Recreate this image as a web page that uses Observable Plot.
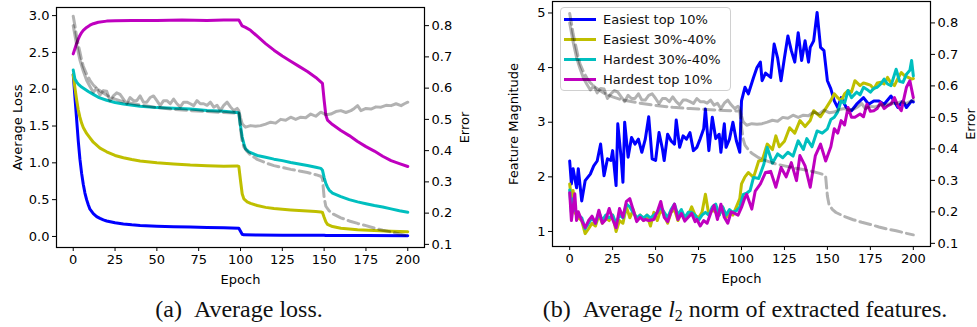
<!DOCTYPE html>
<html><head><meta charset="utf-8">
<script src="https://cdn.jsdelivr.net/npm/d3@7"></script>
<script src="https://cdn.jsdelivr.net/npm/@observablehq/plot@0.6"></script>
<style>
body{margin:0;background:#fff;}
#fig{position:relative;width:977px;height:327px;overflow:hidden;background:#fff;}
.layer{position:absolute;}
.layer svg{display:block;background:none !important;}
.cap{position:absolute;font-family:"Liberation Serif","Times New Roman",serif;font-size:24px;white-space:nowrap;color:#111;transform:translateX(-50%);}
.legend{position:absolute;box-sizing:border-box;border:1px solid #d0d0d0;border-radius:4px;background:rgba(255,255,255,0.8);padding-top:2px;}
.row{display:flex;align-items:center;height:19.8px;font-family:"DejaVu Sans",sans-serif;font-size:13px;color:#111;}
.sw{width:32px;height:3px;margin-left:3px;margin-right:7px;}
</style></head>
<body><div id="fig"></div>
<script>
// ---------- data ----------
const xTicks = [0, 25, 50, 75, 100, 125, 150, 175, 200];
const lossTicks = [0, 0.5, 1.0, 1.5, 2.0, 2.5, 3.0];
const errorTicks = [0.1, 0.2, 0.3, 0.4, 0.5, 0.6, 0.7, 0.8];
const featTicks = [1, 2, 3, 4, 5];
const seriesNames = ["Easiest top 10%", "Easiest 30%-40%", "Hardest 30%-40%", "Hardest top 10%"];
const seriesColors = ["#0000ff", "#bfbf00", "#00bfbf", "#bf00bf"];

const lossEasiestTop10 = [[0,2.2],[1,1.9],[2,1.6],[3,1.3],[4,1.05],[5,0.86],[6,0.71],[7,0.59],[8,0.5],[9,0.43],[10,0.37],[12,0.31],[14,0.27],[16,0.245],[18,0.225],[20,0.21],[25,0.185],[30,0.17],[35,0.158],[40,0.15],[50,0.14],[60,0.133],[70,0.127],[80,0.122],[90,0.118],[99,0.112],[100,0.07],[101,0.03],[102,0.022],[110,0.02],[125,0.018],[150,0.016],[151,0.013],[175,0.012],[200,0.011]];
const lossEasiest3040 = [[0,2.2],[1,2.02],[2,1.86],[3,1.72],[4,1.62],[5,1.54],[6,1.48],[7,1.44],[8,1.4],[10,1.34],[12,1.28],[14,1.24],[16,1.2],[20,1.15],[25,1.1],[30,1.07],[35,1.045],[40,1.025],[50,1.0],[60,0.985],[70,0.97],[80,0.962],[90,0.955],[98,0.958],[99,0.95],[100,0.76],[101,0.58],[102,0.51],[104,0.47],[106,0.45],[110,0.42],[115,0.395],[120,0.38],[125,0.37],[130,0.36],[135,0.352],[140,0.345],[145,0.338],[148,0.333],[149,0.325],[150,0.26],[151,0.2],[152,0.165],[155,0.135],[160,0.112],[170,0.092],[180,0.08],[190,0.07],[200,0.063]];
const lossHardest3040 = [[0,2.26],[1,2.14],[2,2.1],[3,2.07],[5,2.03],[7,2.0],[9,1.97],[12,1.93],[15,1.89],[20,1.85],[25,1.82],[30,1.8],[40,1.77],[50,1.75],[60,1.74],[70,1.73],[80,1.71],[90,1.7],[99,1.68],[100,1.5],[101,1.35],[102,1.26],[103,1.19],[105,1.15],[110,1.1],[115,1.075],[120,1.05],[125,1.03],[130,1.005],[135,0.985],[140,0.965],[145,0.94],[148,0.925],[149,0.9],[150,0.8],[151,0.72],[152,0.67],[153,0.63],[155,0.59],[160,0.54],[165,0.5],[170,0.47],[175,0.445],[180,0.42],[185,0.4],[190,0.375],[195,0.35],[200,0.33]];
const lossHardestTop10 = [[0,2.48],[1,2.55],[2,2.62],[3,2.68],[4,2.73],[5,2.77],[6,2.8],[8,2.84],[10,2.87],[12,2.89],[15,2.91],[20,2.925],[25,2.93],[35,2.935],[50,2.935],[65,2.94],[80,2.935],[90,2.94],[99,2.94],[100,2.9],[101,2.86],[103,2.84],[106,2.8],[110,2.72],[115,2.62],[120,2.53],[125,2.45],[130,2.38],[135,2.31],[140,2.24],[145,2.16],[148,2.1],[149,2.08],[150,1.85],[151,1.65],[152,1.58],[155,1.52],[160,1.44],[165,1.37],[170,1.29],[175,1.22],[180,1.16],[185,1.09],[190,1.03],[195,0.99],[200,0.95]];

const testError = [[0,0.8],[2,0.74],[4,0.69],[6,0.655],[8,0.625],[10,0.605],[12,0.587],[14,0.6],[16,0.578],[18,0.592],[20,0.59],[22,0.56],[24,0.575],[26,0.585],[28,0.58],[30,0.565],[32,0.55],[34,0.57],[36,0.56],[38,0.56],[40,0.575],[42,0.555],[44,0.555],[46,0.57],[48,0.575],[50,0.56],[52,0.544],[54,0.56],[56,0.56],[58,0.55],[60,0.565],[62,0.55],[64,0.54],[66,0.555],[68,0.555],[70,0.55],[72,0.544],[74,0.56],[76,0.55],[78,0.55],[80,0.545],[82,0.555],[84,0.539],[86,0.545],[88,0.528],[90,0.545],[92,0.555],[94,0.54],[96,0.528],[98,0.535],[99,0.528],[100,0.505],[101,0.486],[103,0.475],[106,0.48],[109,0.478],[112,0.48],[115,0.485],[118,0.491],[121,0.488],[124,0.5],[127,0.497],[130,0.507],[133,0.5],[136,0.507],[139,0.505],[142,0.517],[145,0.51],[148,0.523],[151,0.515],[154,0.517],[157,0.525],[160,0.528],[163,0.522],[166,0.528],[168,0.535],[170,0.544],[172,0.528],[175,0.535],[178,0.533],[181,0.54],[184,0.539],[187,0.545],[190,0.544],[193,0.55],[196,0.544],[198,0.55],[200,0.555]];
const trainError = [[0,0.83],[1,0.8],[2,0.765],[3,0.74],[4,0.715],[5,0.69],[6,0.67],[8,0.645],[10,0.625],[12,0.61],[15,0.595],[20,0.577],[25,0.565],[30,0.556],[40,0.546],[50,0.538],[60,0.532],[70,0.528],[80,0.525],[90,0.522],[99,0.52],[100,0.47],[101,0.43],[102,0.412],[104,0.397],[106,0.386],[110,0.372],[115,0.361],[120,0.352],[125,0.346],[130,0.34],[135,0.335],[140,0.33],[145,0.323],[148,0.318],[149,0.31],[150,0.25],[151,0.222],[153,0.207],[155,0.198],[160,0.185],[165,0.175],[170,0.167],[175,0.16],[180,0.152],[185,0.145],[190,0.14],[195,0.133],[200,0.127]];

const featEasiestTop10 = [[0,2.29],[1,1.87],[2,2.15],[4,1.8],[5,2.15],[7,1.56],[9,1.93],[12,2.05],[14,2.2],[16,2.29],[18,2.6],[20,2.02],[22,2.33],[24,2.3],[25,2.48],[27,1.84],[28,2.97],[30,2.33],[31,1.9],[32,3.0],[34,2.36],[36,2.72],[38,2.6],[40,2.69],[42,2.45],[44,2.69],[46,3.1],[48,2.33],[50,2.3],[52,2.81],[54,2.51],[55,2.3],[57,2.78],[59,2.66],[61,2.6],[62,3.04],[64,2.54],[66,2.75],[68,2.69],[70,2.81],[72,2.48],[74,2.54],[76,2.7],[78,2.88],[79,3.24],[81,2.48],[83,3.09],[85,2.7],[87,2.78],[88,2.45],[90,2.97],[91,2.54],[93,2.69],[95,3.0],[97,2.66],[99,2.45],[100,3.39],[102,3.64],[104,3.52],[107,3.82],[109,4.0],[111,4.1],[112,3.76],[114,3.9],[117,3.82],[119,4.43],[121,4.18],[123,3.76],[125,4.18],[127,4.58],[129,4.31],[131,4.1],[133,4.64],[135,4.13],[137,4.49],[139,4.1],[140,4.37],[142,4.49],[144,5.01],[146,4.37],[148,4.31],[150,3.76],[152,3.61],[154,3.39],[156,3.27],[158,3.45],[161,3.27],[164,3.21],[167,3.33],[171,3.45],[174,3.33],[177,3.39],[180,3.39],[183,3.33],[187,3.48],[191,3.27],[194,3.39],[196,3.27],[199,3.39],[200,3.37]];
const featEasiest3040 = [[0,1.87],[1,1.6],[2,1.75],[3,1.35],[5,1.25],[7,1.2],[9,0.96],[11,1.05],[13,1.15],[15,1.1],[17,1.3],[19,1.15],[21,1.25],[23,1.2],[25,1.3],[27,1.0],[29,1.2],[31,1.15],[33,1.45],[35,1.25],[37,1.4],[39,1.2],[41,1.3],[43,1.2],[45,1.3],[47,1.1],[49,1.35],[51,1.2],[53,1.4],[55,1.3],[57,1.15],[59,1.35],[61,1.4],[63,1.2],[65,1.35],[67,1.25],[69,1.3],[71,1.45],[73,1.3],[75,1.25],[77,1.35],[79,1.68],[81,1.3],[83,1.4],[85,1.35],[87,1.3],[89,1.45],[91,1.25],[93,1.35],[95,1.3],[97,1.45],[99,1.6],[100,1.87],[102,2.0],[104,2.08],[107,1.99],[110,2.29],[112,2.3],[115,2.6],[118,2.5],[120,2.75],[122,2.55],[125,2.65],[128,2.9],[131,2.8],[134,3.03],[137,2.92],[140,3.03],[142,3.21],[146,3.1],[150,3.3],[152,3.4],[154,3.52],[156,3.45],[158,3.39],[160,3.52],[162,3.58],[164,3.55],[166,3.76],[169,3.67],[171,3.72],[173,3.7],[175,3.68],[177,3.61],[179,3.72],[181,3.73],[183,3.7],[185,3.82],[187,3.72],[189,3.67],[191,3.8],[193,3.91],[195,3.85],[197,3.82],[199,3.79],[200,3.8]];
const featHardest3040 = [[0,1.76],[1,1.35],[2,1.6],[3,1.4],[5,1.3],[7,1.25],[9,1.05],[11,1.15],[13,1.25],[15,1.15],[17,1.35],[19,1.2],[21,1.3],[23,1.25],[25,1.3],[27,1.15],[29,1.3],[31,1.25],[33,1.5],[35,1.45],[37,1.35],[39,1.25],[41,1.3],[43,1.25],[45,1.3],[47,1.25],[49,1.3],[51,1.35],[53,1.45],[55,1.35],[57,1.25],[59,1.4],[61,1.5],[63,1.3],[65,1.4],[67,1.25],[69,1.35],[71,1.35],[73,1.3],[75,1.2],[77,1.3],[79,1.35],[81,1.3],[83,1.45],[85,1.5],[87,1.3],[89,1.45],[91,1.3],[93,1.4],[95,1.35],[97,1.38],[99,1.45],[101,1.68],[103,1.7],[105,1.75],[107,1.99],[110,1.97],[113,2.23],[115,2.54],[118,2.25],[121,2.42],[124,2.35],[127,2.45],[130,2.38],[133,2.66],[136,2.5],[138,2.7],[141,2.55],[144,2.84],[147,2.8],[150,2.88],[152,3.05],[154,3.09],[156,3.19],[158,3.39],[160,3.35],[162,3.58],[164,3.45],[167,3.55],[169,3.5],[171,3.64],[173,3.6],[175,3.55],[177,3.62],[179,3.64],[181,3.7],[183,3.79],[185,3.7],[187,3.67],[190,3.97],[192,3.75],[194,3.73],[196,3.88],[198,3.95],[199,4.13],[200,3.85]];
const featHardestTop10 = [[0,1.71],[1,1.2],[3,1.69],[4,1.2],[5,1.36],[7,1.2],[9,1.07],[11,1.2],[13,1.28],[15,1.15],[17,1.39],[19,1.15],[21,1.22],[23,1.42],[25,1.22],[27,1.07],[29,1.42],[31,1.26],[33,1.55],[35,1.6],[37,1.39],[39,1.18],[41,1.26],[43,1.2],[44,1.22],[46,1.2],[49,1.22],[51,1.36],[53,1.55],[55,1.26],[57,1.18],[59,1.36],[61,1.5],[63,1.22],[65,1.33],[67,1.19],[69,1.26],[71,1.33],[73,1.18],[74,1.22],[76,1.1],[78,1.2],[80,1.15],[82,1.33],[84,1.48],[86,1.22],[88,1.5],[90,1.26],[92,1.15],[94,1.36],[96,1.33],[98,1.3],[100,1.44],[102,1.62],[103,1.68],[106,1.41],[108,1.74],[111,1.87],[114,2.08],[117,2.1],[120,1.81],[123,2.17],[126,2.0],[129,2.26],[132,1.93],[134,2.39],[137,2.2],[140,1.81],[143,2.39],[146,2.6],[149,2.29],[152,2.55],[154,2.88],[156,2.8],[158,3.03],[160,2.95],[162,3.27],[164,3.09],[166,3.09],[169,3.15],[171,3.1],[173,3.33],[175,3.2],[177,3.21],[179,3.25],[181,3.36],[183,3.25],[185,3.3],[187,3.33],[189,3.45],[191,3.3],[193,3.21],[195,3.5],[196,3.64],[198,3.76],[200,3.45]];

const lossSeries = [lossEasiestTop10, lossEasiest3040, lossHardest3040, lossHardestTop10];
const featSeries = [featEasiestTop10, featEasiest3040, featHardest3040, featHardestTop10];

// ---------- drawing ----------
const fig = document.getElementById("fig");
const FONT = {fontFamily: "DejaVu Sans, sans-serif", fontSize: "13px", background: "none", color: "#000"};
const fmt1 = d3.format(".1f");
const H = 290;

function place(node, left, top) {
  const d = document.createElement("div");
  d.className = "layer";
  d.style.left = left + "px";
  d.style.top = top + "px";
  d.appendChild(node);
  fig.appendChild(d);
}
function colouredLines(series) {
  return series.map((s, i) => Plot.line(s, {x: d => d[0], y: d => d[1], stroke: seriesColors[i], strokeWidth: 3, strokeLinejoin: "round"}));
}
function greyLines() {
  return [
    Plot.line(testError, {x: d => d[0], y: d => d[1], stroke: "#000", strokeOpacity: 0.3, strokeWidth: 3, strokeLinejoin: "round"}),
    Plot.line(trainError, {x: d => d[0], y: d => d[1], stroke: "#000", strokeOpacity: 0.3, strokeWidth: 3, strokeDasharray: "11,5"})
  ];
}
function mainPanel({width, ml, mr, mt, mb, yDomain, yTicks, yFormat, yLabel, series}) {
  return Plot.plot({
    width, height: H, marginLeft: ml, marginRight: mr, marginTop: mt, marginBottom: mb,
    style: FONT,
    x: {domain: [-10, 210]},
    y: {domain: yDomain},
    marks: [
      ...colouredLines(series),
      Plot.frame({stroke: "#000", strokeWidth: 1.2}),
      Plot.axisX({ticks: xTicks, tickSize: 4, tickPadding: 3, label: "Epoch", labelAnchor: "center", labelOffset: 36, labelArrow: "none"}),
      Plot.axisY({anchor: "left", ticks: yTicks, tickFormat: yFormat, tickSize: 4, tickPadding: 3, label: yLabel, labelAnchor: "center", labelOffset: 44, labelArrow: "none"})
    ]
  });
}
function errorPanel({width, ml, mr, mt, mb, yDomain}) {
  return Plot.plot({
    width, height: H, marginLeft: ml, marginRight: mr, marginTop: mt, marginBottom: mb,
    style: FONT,
    x: {domain: [-10, 210], axis: null},
    y: {domain: yDomain},
    marks: [
      ...greyLines(),
      Plot.axisY({anchor: "right", ticks: errorTicks, tickFormat: fmt1, tickSize: 4, tickPadding: 3, label: "Error", labelAnchor: "center", labelOffset: 44, labelArrow: "none"})
    ]
  });
}

// panel (a)
const geomA = {width: 490, ml: 56, mr: 66, mt: 7, mb: 43};
place(mainPanel({...geomA, yDomain: [-0.15, 3.11], yTicks: lossTicks, yFormat: fmt1, yLabel: "Average Loss", series: lossSeries}), 0, 0);
place(errorPanel({...geomA, yDomain: [0.09, 0.858]}), 0, 0);

// panel (b)
const geomB = {width: 487, ml: 62, mr: 47, mt: 1, mb: 44};
place(mainPanel({...geomB, yDomain: [0.725, 5.21], yTicks: featTicks, yFormat: d3.format("d"), yLabel: "Feature Magnitude", series: featSeries}), 490, 0);

// legend (between feature lines and error lines)
const lg = document.createElement("div");
lg.className = "legend";
Object.assign(lg.style, {left: "560px", top: "7px", width: "171px", height: "84px"});
seriesNames.forEach((n, i) => {
  const r = document.createElement("div"); r.className = "row";
  const sw = document.createElement("div"); sw.className = "sw"; sw.style.background = seriesColors[i];
  const t = document.createElement("span"); t.textContent = n;
  r.appendChild(sw); r.appendChild(t); lg.appendChild(r);
});
fig.appendChild(lg);

place(errorPanel({...geomB, yDomain: [0.09, 0.868]}), 490, 0);

// captions
const capA = document.createElement("div");
capA.className = "cap"; capA.style.left = "239px"; capA.style.top = "296px";
capA.innerHTML = "(a)&nbsp;&nbsp;Average loss.";
fig.appendChild(capA);
const capB = document.createElement("div");
capB.className = "cap"; capB.style.left = "745px"; capB.style.top = "296px";
capB.innerHTML = "(b)&nbsp;&nbsp;Average <i>l</i><sub style=\"font-size:16px;vertical-align:-4px;line-height:0\">2</sub> norm of extracted features.";
fig.appendChild(capB);
</script></body></html>
